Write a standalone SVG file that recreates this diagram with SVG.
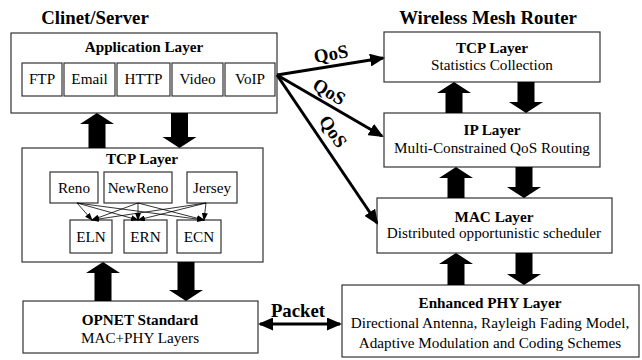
<svg xmlns="http://www.w3.org/2000/svg" width="642" height="360" viewBox="0 0 642 360">
<defs>
<style>
text{font-family:"Liberation Serif","Times New Roman",serif;fill:#000;text-anchor:middle}
.t{font-size:18.8px;font-weight:bold}
.h{font-size:15.2px;font-weight:bold}
.b{font-size:15.2px}
.box{fill:#fff;stroke:#333;stroke-width:1.2}
.thin{stroke:#000;stroke-width:0.8;fill:none;marker-end:url(#sm)}
.q{stroke:#000;stroke-width:3;fill:none;marker-end:url(#big)}
.blk{fill:#000}
</style>
<marker id="sm" markerWidth="8" markerHeight="6" refX="7" refY="3" orient="auto" markerUnits="userSpaceOnUse"><path d="M0,0L8,3L0,6z" fill="#000"/></marker>
<marker id="big" markerWidth="15" markerHeight="13" refX="13" refY="6.5" orient="auto" markerUnits="userSpaceOnUse"><path d="M0,0L15,6.5L0,13z" fill="#000"/></marker>
<marker id="bigs" markerWidth="15" markerHeight="13" refX="2" refY="6.5" orient="auto" markerUnits="userSpaceOnUse"><path d="M15,0L0,6.5L15,13z" fill="#000"/></marker>
</defs>

<text class="t" x="95" y="24">Clinet/Server</text>
<text class="t" x="488" y="24">Wireless Mesh Router</text>

<g id="app">
<rect class="box" x="11" y="33" width="266" height="80"/>
<text class="h" x="144" y="52">Application Layer</text>
<rect class="box" x="22" y="63" width="40" height="33"/><text class="b" x="42" y="84">FTP</text>
<rect class="box" x="64" y="63" width="51" height="33"/><text class="b" x="89.5" y="84">Email</text>
<rect class="box" x="117" y="63" width="53" height="33"/><text class="b" x="143.5" y="84">HTTP</text>
<rect class="box" x="172" y="63" width="51" height="33"/><text class="b" x="197.5" y="84">Video</text>
<rect class="box" x="225" y="63" width="50" height="33"/><text class="b" x="250" y="84">VoIP</text>
</g>

<g id="tcp">
<rect class="box" x="22" y="148" width="241" height="114"/>
<text class="h" x="142" y="164">TCP Layer</text>
<rect class="box" x="50" y="172" width="48" height="31"/><text class="b" x="74" y="193">Reno</text>
<rect class="box" x="104" y="172" width="68" height="31"/><text class="b" x="138" y="193">NewReno</text>
<rect class="box" x="187" y="172" width="50" height="31"/><text class="b" x="212" y="193">Jersey</text>
<rect class="box" x="70" y="220" width="42" height="33"/><text class="b" x="91" y="242">ELN</text>
<rect class="box" x="124" y="220" width="43" height="33"/><text class="b" x="145.5" y="242">ERN</text>
<rect class="box" x="177" y="220" width="44" height="33"/><text class="b" x="199" y="242">ECN</text>
</g>

<g id="opnet">
<rect class="box" x="23" y="301" width="235" height="52"/>
<text class="h" x="140" y="325">OPNET Standard</text>
<text class="b" x="140" y="343">MAC+PHY Layers</text>
</g>

<g id="rtcp">
<rect class="box" x="384" y="32" width="216" height="50"/>
<text class="h" x="492" y="53">TCP Layer</text>
<text class="b" x="492" y="70">Statistics Collection</text>
</g>
<g id="rip">
<rect class="box" x="384" y="113" width="216" height="54"/>
<text class="h" x="492" y="135">IP Layer</text>
<text class="b" x="492" y="153">Multi-Constrained QoS Routing</text>
</g>
<g id="rmac">
<rect class="box" x="377" y="198" width="235" height="55"/>
<text class="h" x="494" y="222">MAC Layer</text>
<text class="b" x="494" y="238">Distributed opportunistic scheduler</text>
</g>
<g id="rphy">
<rect class="box" x="342" y="285" width="297" height="72"/>
<text class="h" x="490" y="308">Enhanced PHY Layer</text>
<text class="b" x="490" y="328">Directional Antenna, Rayleigh Fading Model,</text>
<text class="b" x="490" y="348">Adaptive Modulation and Coding Schemes</text>
</g>

<g id="connectors">
<path class="thin" d="M77,203L92,220"/>
<path class="thin" d="M77,203L138,220"/>
<path class="thin" d="M77,203L204,220"/>
<path class="thin" d="M138,203L92,220"/>
<path class="thin" d="M138,203L138,220"/>
<path class="thin" d="M138,203L204,220"/>
<path class="thin" d="M206,203L92,220"/>
<path class="thin" d="M206,203L138,220"/>
<path class="thin" d="M206,203L204,220"/>
<path class="blk" d="M97,113L114,124L105.5,124L105.5,148L88.5,148L88.5,124L80,124Z"/>
<path class="blk" d="M179.5,148L162.5,137L171,137L171,113L188,113L188,137L196.5,137Z"/>
<path class="blk" d="M103,262L120,273L111.5,273L111.5,301L94.5,301L94.5,273L86,273Z"/>
<path class="blk" d="M186,301L169,290L177.5,290L177.5,262L194.5,262L194.5,290L203,290Z"/>
<path class="blk" d="M454,82L471,93L462.5,93L462.5,113L445.5,113L445.5,93L437,93Z"/>
<path class="blk" d="M526,113L509,102L517.5,102L517.5,82L534.5,82L534.5,102L543,102Z"/>
<path class="blk" d="M456,167L473,178L464.5,178L464.5,198L447.5,198L447.5,178L439,178Z"/>
<path class="blk" d="M524,198L507,187L515.5,187L515.5,167L532.5,167L532.5,187L541,187Z"/>
<path class="blk" d="M456,253L473,264L464.5,264L464.5,285L447.5,285L447.5,264L439,264Z"/>
<path class="blk" d="M524,285L507,274L515.5,274L515.5,253L532.5,253L532.5,274L541,274Z"/>
<path class="q" d="M277,75L383,58"/>
<path class="q" d="M277,75L382,136"/>
<path class="q" d="M277,75L377,223"/>
<path d="M260,324L340,324" stroke="#000" stroke-width="3" fill="none" marker-end="url(#big)" marker-start="url(#bigs)"/>
</g>
<text class="t" transform="translate(332,60) rotate(-10)">QoS</text>
<text class="t" transform="translate(326,97) rotate(31)">QoS</text>
<text class="t" transform="translate(328,135) rotate(56)">QoS</text>
<text class="t" x="298" y="317">Packet</text>
</svg>
